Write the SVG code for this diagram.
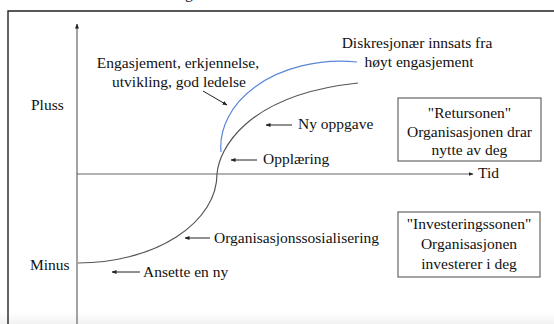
<svg xmlns="http://www.w3.org/2000/svg" width="554" height="324" viewBox="0 0 554 324">
<style>
text{font-family:"Liberation Serif","Times New Roman",serif;font-size:15.5px;fill:#111}
.c{text-anchor:middle}
.ax{stroke:#666;stroke-width:1.2;fill:none}
.ar{stroke:#222;stroke-width:1;fill:none}
.box{fill:#fff;stroke:#666;stroke-width:1.2}
</style>
<defs>
<marker id="ah" viewBox="0 0 10 10" refX="9" refY="5" markerWidth="5" markerHeight="5" orient="auto-start-reverse" markerUnits="userSpaceOnUse"><path d="M0,1 L10,5 L0,9 Z" fill="#222"/></marker>
<linearGradient id="bg" x1="0" y1="0" x2="0" y2="1"><stop offset="0" stop-color="#fff"/><stop offset="1" stop-color="#f2f2f2"/></linearGradient>
</defs>
<rect width="554" height="324" fill="#fff"/>
<rect x="0" y="312" width="554" height="12" fill="url(#bg)"/>
<text x="185" y="-2" style="font-size:16px">g</text>
<g id="frame"><path d="M8,324 V11 H554" fill="none" stroke="#222" stroke-width="1.4"/></g>
<g id="connectors">
<path class="ax" d="M77,324 V24" marker-end="url(#ah)"/>
<path class="ax" d="M77,174 H473" marker-end="url(#ah)"/>
<path d="M78,263 A139,89 0 0 0 217,174 C219,150 245,95 358,83" fill="none" stroke="#555" stroke-width="1.2"/>
<path d="M221,152 C219,130 230,105 255,87 C280,68 320,58 357,62" fill="none" stroke="#5b86d6" stroke-width="1.2"/>
<path class="ar" d="M203,91 L227,105" marker-end="url(#ah)"/>
<path class="ar" d="M292,125 H266" marker-end="url(#ah)"/>
<path class="ar" d="M257,160 H231" marker-end="url(#ah)"/>
<path class="ar" d="M210,238 H185" marker-end="url(#ah)"/>
<path class="ar" d="M140,272 H112" marker-end="url(#ah)"/>
</g>
<g id="pluss"><text x="31" y="110">Pluss</text></g>
<g id="minus"><text x="30" y="270">Minus</text></g>
<g id="tid"><text x="478" y="178">Tid</text></g>
<g id="engasjement"><text class="c" x="178" y="68">Engasjement, erkjennelse,</text><text class="c" x="179" y="87">utvikling, god ledelse</text></g>
<g id="diskresjonaer"><text class="c" x="417" y="48">Diskresjonær innsats fra</text><text class="c" x="419" y="67">høyt engasjement</text></g>
<g id="nyoppgave"><text x="298" y="129">Ny oppgave</text></g>
<g id="opplaering"><text x="263" y="164">Opplæring</text></g>
<g id="sosialisering"><text x="214" y="243">Organisasjonssosialisering</text></g>
<g id="ansette"><text x="143" y="277">Ansette en ny</text></g>
<g id="retursonen"><rect class="box" x="398" y="98" width="143" height="63"/><text class="c" x="469.5" y="118">"Retursonen"</text><text class="c" x="469.5" y="137">Organisasjonen drar</text><text class="c" x="469.5" y="155">nytte av deg</text></g>
<g id="investeringssonen"><rect class="box" x="398" y="212" width="142" height="65"/><text class="c" x="469" y="229">"Investeringssonen"</text><text class="c" x="469" y="249">Organisasjonen</text><text class="c" x="469" y="269">investerer i deg</text></g>
</svg>
